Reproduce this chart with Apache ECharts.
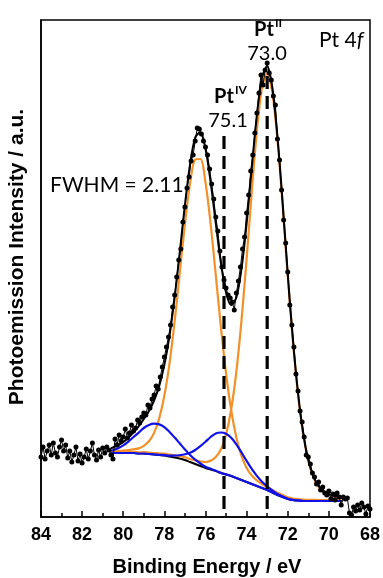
<!DOCTYPE html>
<html>
<head>
<meta charset="utf-8">
<script src="https://cdn.jsdelivr.net/npm/echarts@6.0.0/dist/echarts.min.js"></script>
<style>
html,body{margin:0;padding:0;background:#fff;}
#chart{width:383px;height:578px;}
</style>
</head>
<body>
<div id="chart"></div>
<script>
// ---- Data (binding energy in eV, intensity in arbitrary units) ----
const xTicks = [84, 82, 80, 78, 76, 74, 72, 70, 68];

const dataE = [84.0,83.9,83.8,83.7,83.6,83.5,83.4,83.3,83.2,83.1,83.0,82.9,82.8,82.7,82.6,82.5,82.4,82.3,82.2,82.1,
82.0,81.9,81.8,81.7,81.6,81.5,81.4,81.3,81.2,81.1,81.0,80.9,80.8,80.7,80.6,80.5,80.4,80.3,80.2,80.1,
80.0,79.9,79.8,79.7,79.6,79.5,79.4,79.3,79.2,79.1,79.0,78.9,78.8,78.7,78.6,78.5,78.4,78.3,78.2,78.1,
78.0,77.9,77.8,77.7,77.6,77.5,77.4,77.3,77.2,77.1,77.0,76.9,76.8,76.7,76.6,76.5,76.4,76.3,76.2,76.1,
76.0,75.9,75.8,75.7,75.6,75.5,75.4,75.3,75.2,75.1,75.0,74.9,74.8,74.7,74.6,74.5,74.4,74.3,74.2,74.1,
74.0,73.9,73.8,73.7,73.6,73.5,73.4,73.3,73.2,73.1,73.0,72.9,72.8,72.7,72.6,72.5,72.4,72.3,72.2,72.1,
72.0,71.9,71.8,71.7,71.6,71.5,71.4,71.3,71.2,71.1,71.0,70.9,70.8,70.7,70.6,70.5,70.4,70.3,70.2,70.1,
70.0,69.9,69.8,69.7,69.6,69.5,69.4,69.3,69.2,69.1,69.0,68.9,68.8,68.7,68.6,68.5,68.4,68.3,68.2,68.1,68.0];

const dataI = [60,70,58,66,72,62,74,64,60,70,77,66,72,59,66,55,62,70,56,63,
54,60,68,58,66,74,62,57,67,60,69,64,70,67,62,58,78,72,82,76,
80,88,79,84,92,86,89,97,94,100,104,102,112,109,118,122,131,128,140,150,
160,170,180,192,210,222,240,257,268,295,310,329,340,356,362,376,389,388,383,376,
370,362,348,333,318,300,286,266,250,237,229,222,219,215,207,224,236,250,268,280,
304,322,346,362,384,404,424,442,432,447,454,444,437,421,412,378,357,327,297,274,
245,212,192,170,143,126,106,95,80,62,60,53,44,40,33,35,27,30,24,22,
26,18,23,17,24,20,12,20,18,19,4,2,10,6,12,7,14,10,3,11,8];

const fitE = [80.6,80.5,80.25,80.0,79.75,79.5,79.25,79.0,78.75,78.5,78.25,78.0,77.75,77.5,77.25,77.0,
76.75,76.5,76.25,76.0,75.75,75.5,75.25,75.0,74.75,74.5,74.25,74.0,73.75,73.5,73.25,73.0,
72.75,72.5,72.25,72.0,71.75,71.5,71.25,71.0,70.75,70.5,70.25,70.0,69.75,69.5,69.35];

const background = [64,64,64,64,64,64,63.5,63.5,63,62.5,62,61.5,60.5,59.5,58.5,57,
55,53,51,49,47.5,46,44,42.5,41,39,37,35,33,31,29,27,
24.5,22,20,18,17,16.5,16,16,16,16,16,16,16,16,16];

const ptII_72 = [64.8,64.8,64.9,64.9,65,65,64.7,64.8,64.4,64,63.6,63.3,62.5,61.7,60.9,59.7,
58,56.7,55.5,55,56.2,60,67.5,82.5,107.7,145.1,196.3,258.1,325.3,386.3,429.5,444,
425,377.3,312.3,241.1,176.3,122.6,82.7,56,39.5,30,24.7,22,20.5,19.7,19.3];

const ptII_52 = [65.8,65.9,66.1,66.4,66.9,67.7,68.6,71.2,75.7,84.1,98.7,121.5,153.7,195.6,244.3,293.1,
333.7,357.5,358,334.5,293.1,242,189.7,143.6,106.8,79.6,61.1,49.1,41.5,36.5,32.9,30,
27,24.2,21.9,19.7,18.5,17.9,17.3,17.2,17.1,17,16.9,16.8,16.8,16.7,16.7];

const ptIV_72 = [64,64,64,64,64,64,63.5,63.5,63,62.6,62.2,61.9,61.4,61.3,61.8,62.7,
64.2,67,70.9,75.3,80,83.6,84.5,83.3,79.3,72.7,64.6,56.1,48.1,41.1,35.3,30.7,
26.5,23,20.5,18.2,17.1,16.5,16,16,16,16,16,16,16,16,16];

const ptIV_52 = [66.2,66.8,68.8,71.6,75.4,80,84.4,89,92,93.3,92.6,89.9,85.1,79.4,73.5,67.6,
62,57.3,53.5,50.3,48.2,46.3,44.1,42.6,41,39,37,35,33,31,29,27,
24.5,22,20,18,17,16.5,16,16,16,16,16,16,16,16,16];

const envelope = [68.8,69.5,71.75,74.9,79.3,84.7,90.7,98,106.1,116.5,131.1,152.1,181.2,219.5,265,312.1,
352.9,379.5,384.9,368.1,335,293.9,253.8,224.5,211.8,219.4,248,293.3,348.9,401.9,439.7,450.7,
429.5,380.5,314.7,243,177.9,124,84,57.2,40.6,31,25.6,22.8,21.3,20.4,20];

const peakE = [75.1, 73.0];
const peakLineTop = [381, 441];

// ---- build ----
const pairs = (xs, ys) => xs.map((x, i) => [x, ys[i]]);

const ORANGE = '#F2912A';
const BLUE = '#1212E8';

function curve(name, ys, color, width, z) {
  return {
    name, type: 'line', data: pairs(fitE, ys), smooth: 0.3, showSymbol: false,
    lineStyle: { color, width }, z, silent: true
  };
}

const series = [
  curve('Background', background, '#000', 2, 2),
  curve('Pt(II) 4f7/2', ptII_72, ORANGE, 2.2, 3),
  curve('Pt(II) 4f5/2', ptII_52, ORANGE, 2.2, 3),
  curve('Pt(IV) 4f7/2', ptIV_72, BLUE, 2.2, 4),
  curve('Pt(IV) 4f5/2', ptIV_52, BLUE, 2.2, 4),
  curve('Envelope', envelope, '#000', 2, 5),
  {
    name: 'Data', type: 'line', data: pairs(dataE, dataI), showSymbol: true, showAllSymbol: true,
    symbol: 'circle', symbolSize: 5, itemStyle: { color: '#000' },
    lineStyle: { color: '#000', width: 1 }, z: 6, silent: true
  }
];
peakE.forEach((e, i) => {
  series.push({
    type: 'line', data: [[e, peakLineTop[i]], [e, 0]], showSymbol: false, silent: true,
    lineStyle: { color: '#000', width: 3.2, type: [13, 7] }, z: 7
  });
});

const chart = echarts.init(document.getElementById('chart'), null, { renderer: 'canvas' });
const LBL = 'Lato, "Open Sans", sans-serif';
const AX = '"Liberation Sans", Arial, sans-serif';

chart.setOption({
  animation: false,
  backgroundColor: '#fff',
  grid: { left: 41, right: 11, top: 20, bottom: 61, show: true, borderColor: '#000', borderWidth: 1.5, backgroundColor: 'transparent' },
  xAxis: {
    type: 'value', inverse: true, min: 68, max: 84, interval: 2,
    axisLine: { show: true, lineStyle: { color: '#000', width: 1.5 } },
    axisTick: { show: true, inside: true, length: 6, lineStyle: { color: '#000', width: 1.5 } },
    minorTick: { show: true, splitNumber: 2, length: 4, lineStyle: { color: '#000', width: 1.5 } },
    splitLine: { show: false },
    axisLabel: { color: '#000', fontFamily: AX, fontWeight: 'bold', fontSize: 18, margin: 9,
      formatter: v => xTicks.includes(v) ? String(v) : '' }
  },
  yAxis: {
    type: 'value', min: 0, max: 497,
    axisLine: { show: true, lineStyle: { color: '#000', width: 1.5 } },
    axisTick: { show: false }, axisLabel: { show: false }, splitLine: { show: false }
  },
  graphic: [
    { type: 'text', x: 207, y: 567, style: { text: 'Binding Energy / eV', font: 'bold 20px ' + AX, fill: '#000', align: 'center', verticalAlign: 'middle' } },
    { type: 'text', x: 17, y: 257, rotation: Math.PI / 2, style: { text: 'Photoemission Intensity / a.u.', font: 'bold 21px ' + AX, fill: '#000', align: 'center', verticalAlign: 'middle' } },
    { type: 'text', x: 319, y: 40, style: { text: '{n|Pt 4}{i|f}', fill: '#000', align: 'left', verticalAlign: 'middle',
        rich: { n: { font: '21px ' + LBL, fill: '#000' }, i: { font: 'italic 21px ' + LBL, fill: '#000' } } } },
    { type: 'text', x: 254, y: 30, style: { text: 'Pt', font: 'bold 20px ' + LBL, fill: '#000', align: 'left', verticalAlign: 'middle' } },
    { type: 'text', x: 275, y: 23, style: { text: 'II', font: 'bold 12px ' + LBL, fill: '#000', align: 'left', verticalAlign: 'middle' } },
    { type: 'text', x: 267, y: 54, style: { text: '73.0', font: '20px ' + LBL, fill: '#000', align: 'center', verticalAlign: 'middle' } },
    { type: 'text', x: 214, y: 97, style: { text: 'Pt', font: 'bold 20px ' + LBL, fill: '#000', align: 'left', verticalAlign: 'middle' } },
    { type: 'text', x: 235, y: 90, style: { text: 'IV', font: 'bold 12px ' + LBL, fill: '#000', align: 'left', verticalAlign: 'middle' } },
    { type: 'text', x: 228, y: 121, style: { text: '75.1', font: '20px ' + LBL, fill: '#000', align: 'center', verticalAlign: 'middle' } },
    { type: 'text', x: 50, y: 185, style: { text: 'FWHM = 2.11', font: '21px ' + LBL, fill: '#000', align: 'left', verticalAlign: 'middle' } }
  ],
  series
});
</script>
</body>
</html>
